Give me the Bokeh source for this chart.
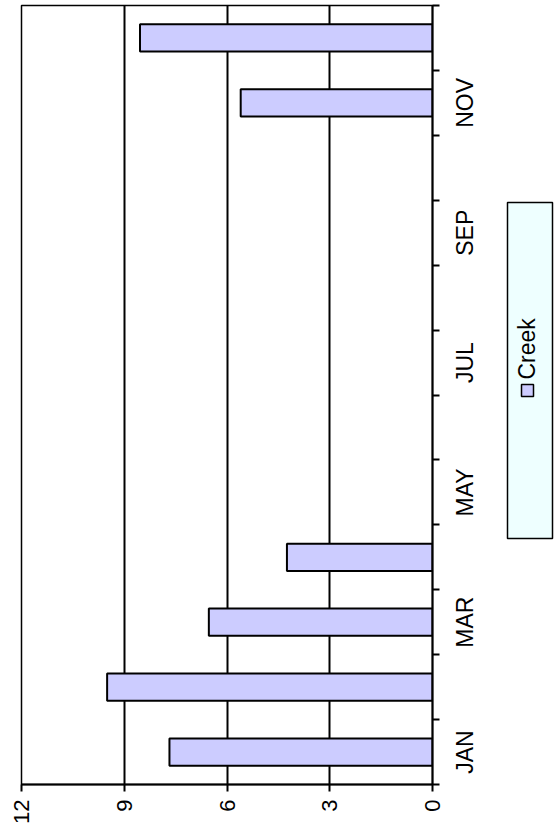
import math
from bokeh.plotting import figure
from bokeh.models import Range1d, FixedTicker, LinearAxis, Grid, ColumnDataSource
from bokeh.layouts import row
from bokeh.core.properties import value
from bokeh.embed import file_html
from bokeh.resources import INLINE

months = ["JAN", "FEB", "MAR", "APR", "MAY", "JUN", "JUL", "AUG", "SEP", "OCT", "NOV", "DEC"]
creek = [7.68, 9.50, 6.53, 4.25, None, None, None, None, None, None, 5.60, 8.54]
value_ticks = [0, 3, 6, 9, 12]
shown_months = ["JAN", "MAR", "MAY", "JUL", "SEP", "NOV"]
series_name = "Creek"

FONT = "Liberation Sans"
BAR_FILL = "#CCCCFF"
LEGEND_FILL = "#EEFFFF"
H = 835
TOP, BOTTOM = 5, 51
W1 = 448

# ---------------- main chart ----------------
y_range = Range1d(0, len(months))
p = figure(width=W1, height=H, output_backend="svg", toolbar_location=None,
           x_range=Range1d(12, 0), y_range=y_range,
           x_axis_location=None, y_axis_location=None,
           min_border_left=21, min_border_top=TOP, min_border_bottom=BOTTOM,
           min_border_right=W1 - 432)
p.outline_line_color = "black"
p.outline_line_width = 1.5
p.background_fill_color = "white"
p.border_fill_color = "white"
p.xgrid.visible = False
p.ygrid.visible = False

g = Grid(dimension=0, ticker=FixedTicker(ticks=value_ticks[1:-1]))
g.grid_line_color = "black"
g.grid_line_width = 2
p.add_layout(g)
g2 = Grid(dimension=0, ticker=FixedTicker(ticks=[max(value_ticks)]))
g2.grid_line_color = "black"
g2.grid_line_width = 3
p.add_layout(g2)

ys, rights = [], []
for i, v in enumerate(creek):
    if v is not None:
        ys.append(i + 0.5)
        rights.append(v)
p.hbar(y=ys, left=0, right=rights, height=0.42, fill_color=BAR_FILL,
       line_color="black", line_width=2)

xa = LinearAxis(ticker=FixedTicker(ticks=value_ticks, minor_ticks=[]))
xa.bounds = (0, 12)
xa.major_label_orientation = math.pi / 2
xa.major_label_text_font = FONT
xa.major_label_text_font_size = "22px"
xa.major_label_text_color = "black"
xa.major_tick_out = 7
xa.major_tick_in = 0
xa.major_tick_line_width = 2
xa.axis_line_width = 2
xa.major_label_standoff = 8
p.add_layout(xa, "below")

bounds = list(range(len(months) + 1))
ya = LinearAxis(ticker=FixedTicker(ticks=[], minor_ticks=bounds))
ya.major_label_text_font_size = "0px"
ya.major_label_standoff = 0
ya.major_tick_out = 0
ya.major_tick_in = 0
ya.minor_tick_out = 7
ya.minor_tick_in = 0
ya.minor_tick_line_width = 2
ya.minor_tick_line_color = "black"
ya.axis_line_width = 2
p.add_layout(ya, "right")

# ---------------- right strip: category labels + legend ----------------
p2 = figure(width=556 - W1, height=H, output_backend="svg", toolbar_location=None,
            x_range=Range1d(W1, 556), y_range=y_range,
            x_axis_location=None, y_axis_location=None,
            min_border_left=0, min_border_right=0,
            min_border_top=TOP, min_border_bottom=BOTTOM)
p2.outline_line_color = None
p2.background_fill_color = "white"
p2.border_fill_color = "white"
p2.xgrid.visible = False
p2.ygrid.visible = False
p2.extra_y_ranges = {"px": Range1d(H - BOTTOM, TOP)}

lab_src = ColumnDataSource(dict(
    x=[464] * len(shown_months),
    y=[months.index(m) + 0.5 for m in shown_months],
    text=shown_months))
p2.text(x="x", y="y", text="text", source=lab_src, angle=math.pi / 2,
        text_align="center", text_baseline="middle",
        text_font=value(FONT), text_font_size="23px", text_color="black")

p2.quad(left=507, right=552, top=202, bottom=538, y_range_name="px",
        fill_color=LEGEND_FILL, line_color="black", line_width=1.5)
p2.scatter(x=[527], y=[390], marker="square", size=12, y_range_name="px",
           fill_color=BAR_FILL, line_color="black", line_width=1.5)
p2.text(x=[526], y=[379], text=[series_name], y_range_name="px", angle=math.pi / 2,
        text_align="left", text_baseline="middle",
        text_font=value(FONT), text_font_size="23px", text_color="black")

layout = row(p, p2)
open("out.html", "w").write(file_html(layout, INLINE))
